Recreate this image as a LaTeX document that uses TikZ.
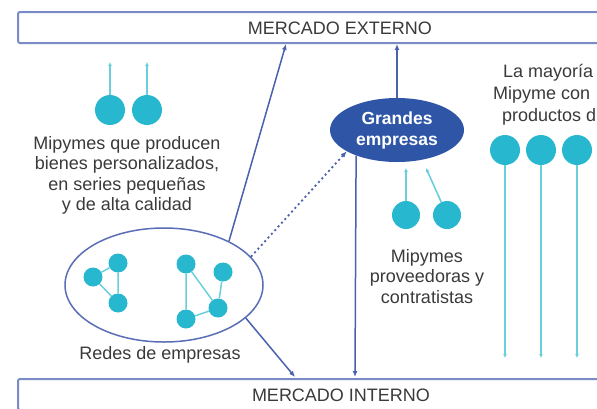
\documentclass[tikz,border=0pt]{standalone}
\usepackage{fontspec}
\setmainfont{Liberation Sans}
\usetikzlibrary{shapes.geometric,arrows.meta}
\definecolor{boxc}{HTML}{7A8CC8}
\definecolor{arrc}{HTML}{4A62AE}
\definecolor{ellc}{HTML}{5A6EB6}
\definecolor{cyanf}{HTML}{27B8CF}
\definecolor{cyanl}{HTML}{6ACFDC}
\definecolor{darkb}{HTML}{2F56A6}
\definecolor{txt}{HTML}{3A3A3A}
\begin{document}
\begin{tikzpicture}[x=1pt,y=-1pt,
  lbl/.style={font=\fontsize{18}{20.5}\selectfont, text=txt, align=center, inner sep=0},
  mkt/.style={draw=boxc, line width=2pt, rounded corners=2pt, minimum width=602pt, minimum height=31pt, inner sep=0},
  bigdot/.style={circle, fill=cyanf, minimum size=30pt, inner sep=0},
  smalldot/.style={circle, fill=cyanf, minimum size=19pt, inner sep=0},
  carr/.style={draw=cyanl, line width=1.6pt, -{Latex[length=4pt,width=4pt]}},
  barr/.style={draw=arrc, line width=1.5pt, -{Latex[length=6pt,width=5pt]}},
  net/.style={draw=cyanl, line width=1.5pt},
]
\useasboundingbox (0,0) rectangle (597,408);
\clip (0,0) rectangle (597,408);
\fill[white] (0,0) rectangle (597,408);

% markets
\node[mkt] (ext) at (319,27.5) {};
\node[lbl] (exttxt) at (340,28) {MERCADO EXTERNO};
\node[mkt] (int) at (319,394.5) {};
\node[lbl] (inttxt) at (341,395) {MERCADO INTERNO};

% left mipymes
\node[bigdot] (m1) at (110,110) {};
\node[bigdot] (m2) at (147,110) {};
\coordinate (t1) at (110,62);
\coordinate (t2) at (147,62);
\draw[carr] (m1) -- (t1);
\draw[carr] (m2) -- (t2);
\node[lbl] (mtxt) at (127,175.5) {Mipymes que producen\\bienes personalizados,\\en series pequeñas\\y de alta calidad};

% redes
\node[ellipse, draw=ellc, line width=1.5pt, minimum width=198pt, minimum height=114pt, inner sep=0] (redes) at (164,285) {};
\node[smalldot] (a) at (93,277) {};
\node[smalldot] (b) at (118,263) {};
\node[smalldot] (c) at (118,303) {};
\draw[net] (a) -- (b) (a) -- (c) (b) -- (c);
\node[smalldot] (d) at (186,264) {};
\node[smalldot] (e) at (223,272) {};
\node[smalldot] (f) at (218,308) {};
\node[smalldot] (g) at (186,319) {};
\draw[net] (d) -- (g) (d) -- (f) (e) -- (f) (f) -- (g);
\node[lbl] (rtxt) at (160,355) {Redes de empresas};

% grandes empresas
\node[ellipse, fill=darkb, minimum width=134pt, minimum height=64pt, inner sep=0,
      text=white, align=center, font=\bfseries\fontsize{17.5}{21}\selectfont] (grandes) at (397,130) {Grandes\\empresas};

% arrows
\coordinate (e1) at (286,44);
\coordinate (e2) at (397,44);
\coordinate (i1) at (295,377);
\coordinate (i2) at (355,377);
\draw[barr] (redes.34) -- (e1);
\draw[barr] (grandes.north) -- (e2);
\draw[barr] (redes.-22) -- (i1);
\draw[barr] (grandes.212) -- (i2);
\draw[barr, line width=1.8pt, dash pattern=on 2pt off 3pt] (redes.18) -- (grandes.203);

% proveedoras
\node[bigdot, minimum size=28pt] (p1) at (406,215) {};
\node[bigdot, minimum size=28pt] (p2) at (447,215) {};
\coordinate (q1) at (406,168);
\coordinate (q2) at (426,168);
\draw[carr] (p1) -- (q1);
\draw[carr] (p2) -- (q2);
\node[lbl] (ptxt) at (427,276.5) {Mipymes\\proveedoras y\\contratistas};

% right mipymes
\node[lbl, anchor=west] (l1) at (503,73) {La mayoría};
\node[lbl, anchor=west] (l2) at (493,95) {Mipyme con};
\node[lbl, anchor=west] (l3) at (502,117) {productos d};
\node[bigdot] (r1) at (505,150) {};
\node[bigdot] (r2) at (541,150) {};
\node[bigdot] (r3) at (577,150) {};
\coordinate (s1) at (505,358);
\coordinate (s2) at (541,358);
\coordinate (s3) at (577,358);
\draw[carr] (r1) -- (s1);
\draw[carr] (r2) -- (s2);
\draw[carr] (r3) -- (s3);
\end{tikzpicture}
\end{document}
